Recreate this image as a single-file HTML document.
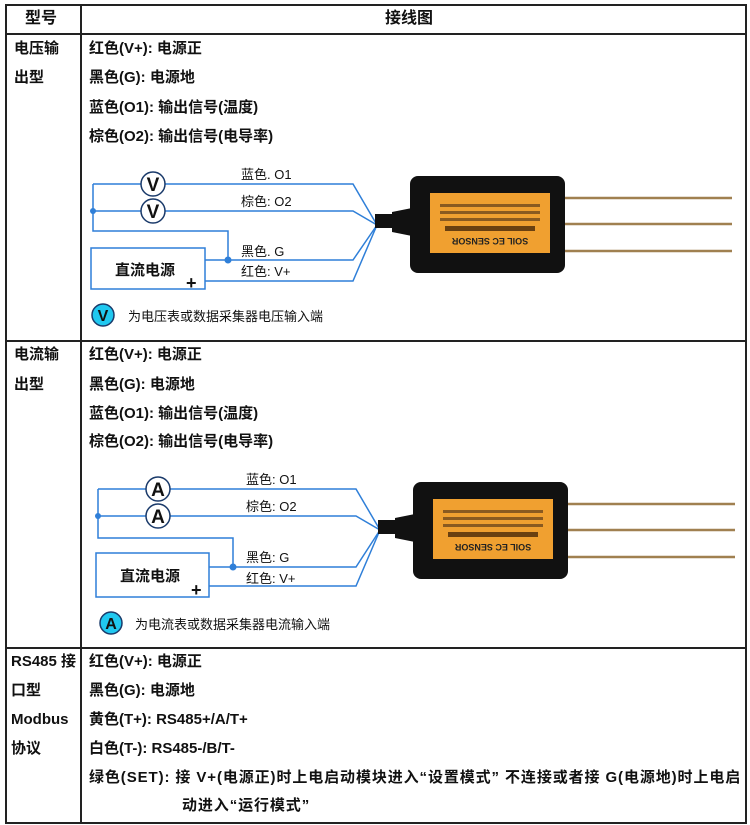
<!DOCTYPE html>
<html><head><meta charset="utf-8"><style>
body{margin:0;width:750px;height:825px;background:#fff;position:relative;overflow:hidden;font-family:"Liberation Sans","Noto Sans CJK SC",sans-serif;color:#111}
.t{position:absolute;font-size:15px;font-weight:bold;white-space:nowrap;line-height:16px}
.l{position:absolute;background:#222}
svg{position:absolute;left:0;top:0}
</style></head><body>
<div class="l" style="left:5px;top:4px;width:741px;height:1.5px"></div>
<div class="l" style="left:5px;top:33px;width:741px;height:1.5px"></div>
<div class="l" style="left:5px;top:340px;width:741px;height:1.5px"></div>
<div class="l" style="left:5px;top:647px;width:741px;height:1.5px"></div>
<div class="l" style="left:5px;top:822px;width:741px;height:1.5px"></div>
<div class="l" style="left:5px;top:4px;width:1.5px;height:820px"></div>
<div class="l" style="left:80px;top:4px;width:1.5px;height:820px"></div>
<div class="l" style="left:745px;top:4px;width:1.5px;height:820px"></div>

<div class="t" style="left:25px;top:11px;font-size:16px">型号</div>
<div class="t" style="left:385px;top:11px;font-size:16px">接线图</div>

<div class="t" style="left:14px;top:41px">电压输</div>
<div class="t" style="left:14px;top:70px">出型</div>
<div class="t" style="left:89px;top:41px">红色(V+): 电源正</div>
<div class="t" style="left:89px;top:70px">黑色(G): 电源地</div>
<div class="t" style="left:89px;top:100px">蓝色(O1): 输出信号(温度)</div>
<div class="t" style="left:89px;top:129px">棕色(O2): 输出信号(电导率)</div>

<div class="t" style="left:14px;top:347px">电流输</div>
<div class="t" style="left:14px;top:377px">出型</div>
<div class="t" style="left:89px;top:347px">红色(V+): 电源正</div>
<div class="t" style="left:89px;top:377px">黑色(G): 电源地</div>
<div class="t" style="left:89px;top:406px">蓝色(O1): 输出信号(温度)</div>
<div class="t" style="left:89px;top:434px">棕色(O2): 输出信号(电导率)</div>

<div class="t" style="left:11px;top:654px">RS485 接</div>
<div class="t" style="left:11px;top:683px">口型</div>
<div class="t" style="left:11px;top:712px">Modbus</div>
<div class="t" style="left:11px;top:741px">协议</div>
<div class="t" style="left:89px;top:654px">红色(V+): 电源正</div>
<div class="t" style="left:89px;top:683px">黑色(G): 电源地</div>
<div class="t" style="left:89px;top:712px">黄色(T+): RS485+/A/T+</div>
<div class="t" style="left:89px;top:741px">白色(T-): RS485-/B/T-</div>
<div class="t" style="left:89px;top:770px;letter-spacing:0.9px">绿色(SET): 接 V+(电源正)时上电启动模块进入“设置模式” 不连接或者接 G(电源地)时上电启</div>
<div class="t" style="left:182px;top:798px;letter-spacing:0.9px">动进入“运行模式”</div>

<svg width="750" height="825" viewBox="0 0 750 825">
<defs>
<g id="sensor">
<line x1="560" y1="22" x2="732" y2="22" stroke="#a08050" stroke-width="2.5"/>
<line x1="560" y1="48" x2="732" y2="48" stroke="#a08050" stroke-width="2.5"/>
<line x1="560" y1="75" x2="732" y2="75" stroke="#a08050" stroke-width="2.5"/>
<rect x="375" y="38" width="20" height="14" fill="#111"/>
<path d="M392 36 L412 32 L412 60 L392 56Z" fill="#111"/>
<rect x="410" y="0" width="155" height="97" rx="8" fill="#111"/>
<rect x="430" y="17" width="120" height="60" fill="#f0a030"/>
<text x="490" y="68" font-size="9" font-weight="bold" text-anchor="middle" fill="#222" transform="rotate(180 490 65)">SOIL EC SENSOR</text>
<rect x="440" y="28" width="100" height="3" fill="#8a5a20"/>
<rect x="440" y="35" width="100" height="3" fill="#8a5a20"/>
<rect x="440" y="42" width="100" height="3" fill="#8a5a20"/>
<rect x="445" y="50" width="90" height="5" fill="#6a4010"/>
</g>
</defs>
<g fill="none" stroke="#2f7fd8" stroke-width="1.5">
<path d="M93 184 H353 L377 225"/>
<path d="M93 211 H353 L377 225"/>
<path d="M93 184 V231 H228 V260"/>
<path d="M205 260 H353 L377 225"/>
<path d="M205 281 H353 L377 225"/>
<rect x="91" y="248" width="114" height="41" fill="#fff"/>
<path d="M98 489 H356 L380 530"/>
<path d="M98 516 H356 L380 530"/>
<path d="M98 489 V538 H233 V567"/>
<path d="M209 567 H356 L380 530"/>
<path d="M209 586 H356 L380 530"/>
<rect x="96" y="553" width="113" height="44" fill="#fff"/>
</g>
<g fill="#2f7fd8"><circle cx="93" cy="211" r="3"/><circle cx="228" cy="260" r="3.5"/><circle cx="98" cy="516" r="3"/><circle cx="233" cy="567" r="3.5"/></g>
<g stroke="#1a3a6a" stroke-width="1.5" fill="#fff">
<circle cx="153" cy="184" r="12"/><circle cx="153" cy="211" r="12"/>
<circle cx="158" cy="489" r="12"/><circle cx="158" cy="516" r="12"/>
</g>
<g stroke="#1a3a6a" stroke-width="1.5" fill="#20c8f0">
<circle cx="103" cy="315" r="11"/><circle cx="111" cy="623" r="11"/>
</g>
<g font-family="Liberation Sans,sans-serif" font-weight="bold" text-anchor="middle" fill="#111">
<text x="153" y="191" font-size="19">V</text><text x="153" y="218" font-size="19">V</text>
<text x="158" y="496" font-size="19">A</text><text x="158" y="523" font-size="19">A</text>
<text x="103" y="321" font-size="16">V</text><text x="111" y="629" font-size="16">A</text>
</g>
<g font-family="Liberation Sans,Noto Sans CJK SC,sans-serif" font-size="13" fill="#111">
<text x="241" y="179">蓝色. O1</text><text x="241" y="206">棕色: O2</text>
<text x="241" y="256">黑色. G</text><text x="241" y="276">红色: V+</text>
<text x="246" y="484">蓝色: O1</text><text x="246" y="511">棕色: O2</text>
<text x="246" y="562">黑色: G</text><text x="246" y="583">红色: V+</text>
<text x="128" y="321">为电压表或数据采集器电压输入端</text>
<text x="135" y="629">为电流表或数据采集器电流输入端</text>
</g>
<g font-family="Liberation Sans,Noto Sans CJK SC,sans-serif" font-size="15" font-weight="bold" fill="#111">
<text x="115" y="275">直流电源</text><text x="186" y="289" font-size="18">+</text>
<text x="120" y="581">直流电源</text><text x="191" y="596" font-size="18">+</text>
</g>
<use href="#sensor" x="0" y="176"/>
<use href="#sensor" x="3" y="482"/>
</svg>
</body></html>
